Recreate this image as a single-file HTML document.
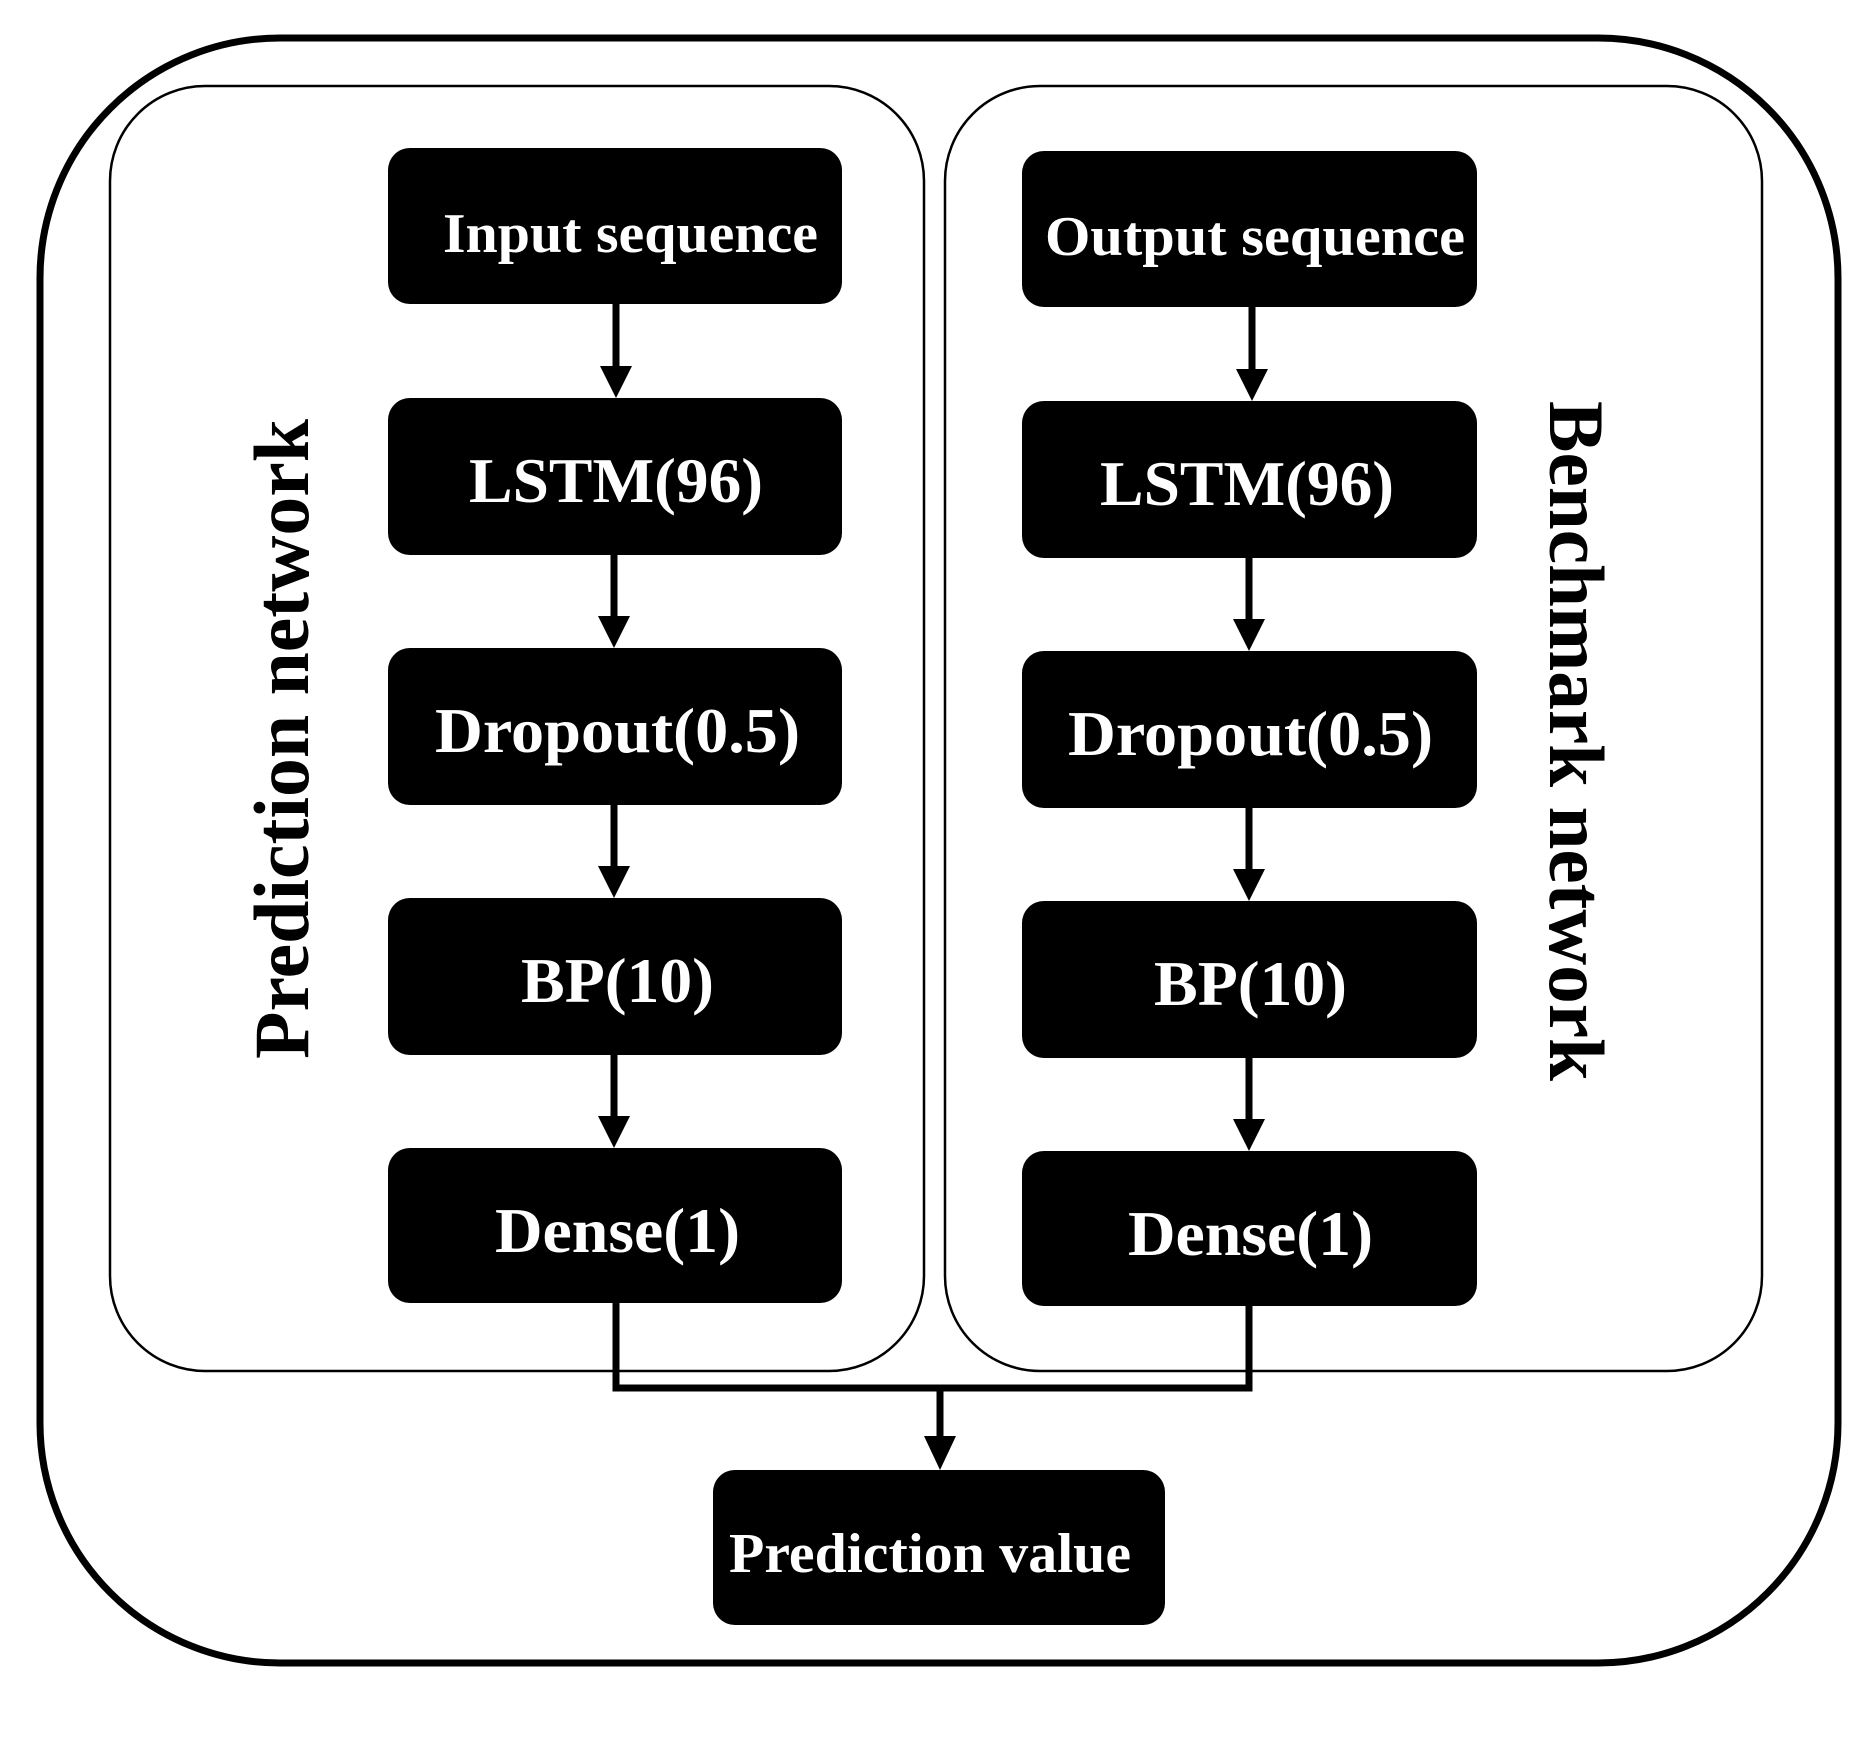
<!DOCTYPE html>
<html><head><meta charset="utf-8"><style>
html,body{margin:0;padding:0;background:#fff;}
svg{display:block;}
text{font-family:"Liberation Serif",serif;font-weight:bold;fill:#fff;}
</style></head><body>
<svg width="1868" height="1737" viewBox="0 0 1868 1737" xmlns="http://www.w3.org/2000/svg">
<rect x="40" y="38" width="1798" height="1625" rx="240" ry="240" fill="none" stroke="#000" stroke-width="7"/>
<rect x="110" y="86" width="814" height="1285" rx="95" ry="95" fill="none" stroke="#000" stroke-width="2.5"/>
<rect x="945" y="86" width="817" height="1285" rx="95" ry="95" fill="none" stroke="#000" stroke-width="2.5"/>

<g fill="#000">
<rect x="388" y="148" width="454" height="156" rx="22"/>
<rect x="388" y="398" width="454" height="157" rx="22"/>
<rect x="388" y="648" width="454" height="157" rx="22"/>
<rect x="388" y="898" width="454" height="157" rx="22"/>
<rect x="388" y="1148" width="454" height="155" rx="22"/>
<rect x="1022" y="151" width="455" height="156" rx="22"/>
<rect x="1022" y="401" width="455" height="157" rx="22"/>
<rect x="1022" y="651" width="455" height="157" rx="22"/>
<rect x="1022" y="901" width="455" height="157" rx="22"/>
<rect x="1022" y="1151" width="455" height="155" rx="22"/>
<rect x="713" y="1470" width="452" height="155" rx="22"/>
</g>

<g stroke="#000" stroke-width="7" fill="#000">
<line x1="616" y1="304" x2="616" y2="370"/>
<line x1="614" y1="555" x2="614" y2="620"/>
<line x1="614" y1="805" x2="614" y2="870"/>
<line x1="614" y1="1055" x2="614" y2="1120"/>
<line x1="1252" y1="307" x2="1252" y2="373"/>
<line x1="1249" y1="558" x2="1249" y2="623"/>
<line x1="1249" y1="808" x2="1249" y2="873"/>
<line x1="1249" y1="1058" x2="1249" y2="1123"/>
<polyline points="616,1303 616,1388 1249,1388 1249,1306" fill="none"/>
<line x1="940" y1="1388" x2="940" y2="1440"/>
</g>
<g fill="#000">
<polygon points="600,366 632,366 616,398"/>
<polygon points="598,616 630,616 614,648"/>
<polygon points="598,866 630,866 614,898"/>
<polygon points="598,1116 630,1116 614,1148"/>
<polygon points="1236,369 1268,369 1252,401"/>
<polygon points="1233,619 1265,619 1249,651"/>
<polygon points="1233,869 1265,869 1249,901"/>
<polygon points="1233,1119 1265,1119 1249,1151"/>
<polygon points="924,1436 956,1436 940,1470"/>
</g>

<text x="443" y="252" font-size="56" textLength="375" lengthAdjust="spacingAndGlyphs">Input sequence</text>
<text x="469" y="502" font-size="64" textLength="294" lengthAdjust="spacingAndGlyphs">LSTM(96)</text>
<text x="435" y="752" font-size="64" textLength="365" lengthAdjust="spacingAndGlyphs">Dropout(0.5)</text>
<text x="521" y="1002" font-size="64" textLength="193" lengthAdjust="spacingAndGlyphs">BP(10)</text>
<text x="495" y="1252" font-size="64" textLength="245" lengthAdjust="spacingAndGlyphs">Dense(1)</text>

<text x="1045" y="255" font-size="56" textLength="420" lengthAdjust="spacingAndGlyphs">Output sequence</text>
<text x="1100" y="505" font-size="64" textLength="294" lengthAdjust="spacingAndGlyphs">LSTM(96)</text>
<text x="1068" y="755" font-size="64" textLength="365" lengthAdjust="spacingAndGlyphs">Dropout(0.5)</text>
<text x="1154" y="1005" font-size="64" textLength="193" lengthAdjust="spacingAndGlyphs">BP(10)</text>
<text x="1128" y="1255" font-size="64" textLength="245" lengthAdjust="spacingAndGlyphs">Dense(1)</text>

<text x="729" y="1572" font-size="56" textLength="402" lengthAdjust="spacingAndGlyphs">Prediction value</text>

<text transform="translate(308,1059) rotate(-90)" font-size="78" textLength="640" lengthAdjust="spacingAndGlyphs" style="fill:#000">Prediction network</text>
<text transform="translate(1550,401) rotate(90)" font-size="78" textLength="680" lengthAdjust="spacingAndGlyphs" style="fill:#000">Benchmark network</text>
</svg>
</body></html>
